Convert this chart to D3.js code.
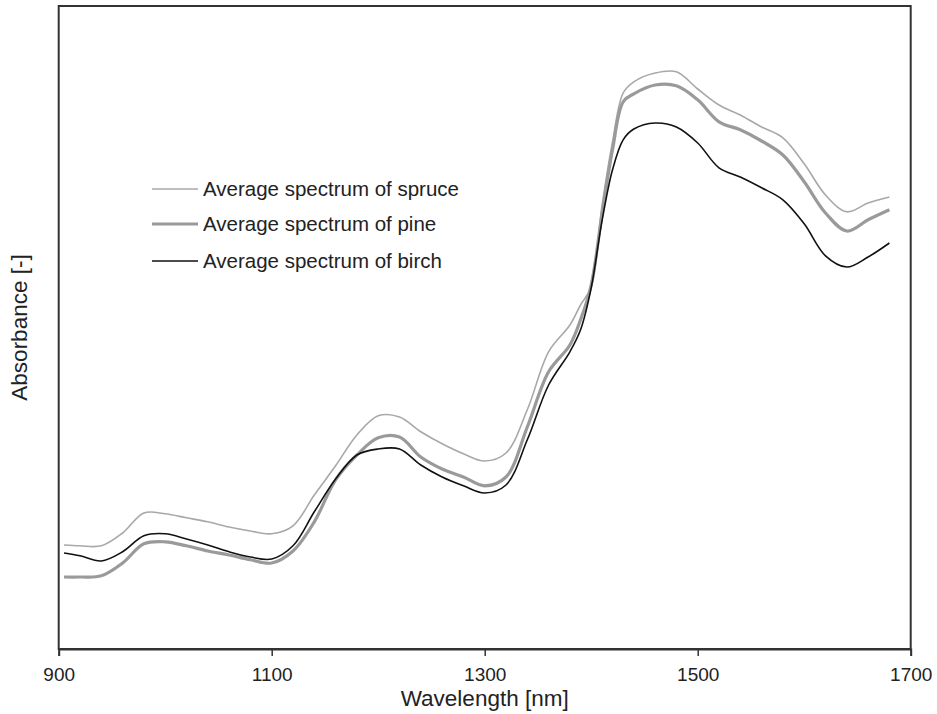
<!DOCTYPE html>
<html>
<head>
<meta charset="utf-8">
<script src="https://cdn.jsdelivr.net/npm/d3@7"></script>
<style>
  html, body { margin: 0; padding: 0; background: #fff; }
  svg { display: block; font-family: "Liberation Sans", Arial, sans-serif; }
</style>
</head>
<body>
<svg id="chart" width="937" height="714"></svg>
<script>
const wavelengths = [905, 920, 940, 960, 980, 1000, 1020, 1040, 1060, 1080, 1100,
  1120, 1140, 1160, 1180, 1200, 1220, 1240, 1260, 1280, 1300,
  1320, 1340, 1360, 1380, 1390, 1400, 1410, 1420, 1430, 1440,
  1460, 1480, 1500, 1520, 1540, 1560, 1580, 1600, 1620, 1640, 1660, 1680];

const spruce = [0.260, 0.258, 0.258, 0.290, 0.340, 0.338, 0.328, 0.318, 0.305, 0.295, 0.288,
  0.308, 0.385, 0.458, 0.535, 0.583, 0.580, 0.543, 0.513, 0.488, 0.470,
  0.490, 0.598, 0.743, 0.810, 0.860, 0.905, 1.105, 1.268, 1.390, 1.418,
  1.440, 1.443, 1.400, 1.360, 1.335, 1.305, 1.278, 1.213, 1.135, 1.093, 1.115, 1.130];

const pine = [0.180, 0.180, 0.183, 0.215, 0.263, 0.268, 0.258, 0.245, 0.235, 0.223, 0.215,
  0.245, 0.318, 0.423, 0.485, 0.528, 0.530, 0.480, 0.450, 0.430, 0.408,
  0.430, 0.555, 0.693, 0.760, 0.823, 0.910, 1.085, 1.248, 1.368, 1.388,
  1.410, 1.408, 1.373, 1.318, 1.298, 1.270, 1.235, 1.168, 1.090, 1.045, 1.073, 1.098];

const birch = [0.240, 0.233, 0.220, 0.243, 0.283, 0.288, 0.275, 0.260, 0.243, 0.230, 0.225,
  0.258, 0.343, 0.425, 0.485, 0.500, 0.500, 0.460, 0.430, 0.408, 0.390,
  0.410, 0.523, 0.660, 0.743, 0.798, 0.903, 1.068, 1.198, 1.273, 1.300,
  1.315, 1.305, 1.265, 1.203, 1.180, 1.153, 1.123, 1.063, 0.983, 0.955, 0.980, 1.015];

const xTicks = [900, 1100, 1300, 1500, 1700];
const seriesNames = ["Average spectrum of spruce", "Average spectrum of pine", "Average spectrum of birch"];

const svg = d3.select("#chart");
const pLeft = 58.7, pRight = 910.7, pTop = 6, pBottom = 649;

const x = d3.scaleLinear().domain([900, 1700]).range([pLeft, pRight]);
const y = d3.scaleLinear().domain([0, 1.6075]).range([pBottom, pTop]);

const styles = [
  { color: "#a8a8a8", width: 1.6 },
  { color: "#9a9a9a", width: 3.2 },
  { color: "#111111", width: 1.6 }
];
const seriesData = [spruce, pine, birch];

// Frame
svg.append("rect")
  .attr("x", pLeft).attr("y", pTop)
  .attr("width", pRight - pLeft).attr("height", pBottom - pTop)
  .attr("fill", "none").attr("stroke", "#333").attr("stroke-width", 2);

// X axis
const xAxis = d3.axisBottom(x).tickValues(xTicks).tickSize(7).tickPadding(12).tickFormat(d3.format("d"));
const gx = svg.append("g").attr("transform", `translate(0,${pBottom})`).call(xAxis);
gx.select(".domain").attr("stroke", "#333").attr("stroke-width", 2);
gx.selectAll(".tick line").attr("stroke", "#333").attr("stroke-width", 1.5);
gx.selectAll(".tick text").attr("font-size", 19).attr("fill", "#222")
  .attr("font-family", "'Liberation Sans', Arial, sans-serif");

// Axis titles
svg.append("text")
  .attr("x", (pLeft + pRight) / 2).attr("y", 706)
  .attr("text-anchor", "middle").attr("font-size", 22.5).attr("fill", "#222")
  .text("Wavelength [nm]");

svg.append("text")
  .attr("transform", `translate(27,${(pTop + pBottom) / 2}) rotate(-90)`)
  .attr("text-anchor", "middle").attr("font-size", 22.5).attr("fill", "#222")
  .text("Absorbance [-]");

// Lines
const line = d3.line()
  .x((d, i) => x(wavelengths[i]))
  .y(d => y(d))
  .curve(d3.curveCatmullRom.alpha(0.5));

seriesData.forEach((s, k) => {
  svg.append("path")
    .datum(s)
    .attr("fill", "none")
    .attr("stroke", styles[k].color)
    .attr("stroke-width", styles[k].width)
    .attr("stroke-linejoin", "round")
    .attr("d", line);
});

// Legend
const legendY = [189, 224, 261];
seriesNames.forEach((name, k) => {
  svg.append("line")
    .attr("x1", 152).attr("x2", 198)
    .attr("y1", legendY[k]).attr("y2", legendY[k])
    .attr("stroke", styles[k].color).attr("stroke-width", styles[k].width);
  svg.append("text")
    .attr("x", 203).attr("y", legendY[k] + 7)
    .attr("font-size", 20.5).attr("fill", "#222")
    .text(name);
});
</script>
</body>
</html>
